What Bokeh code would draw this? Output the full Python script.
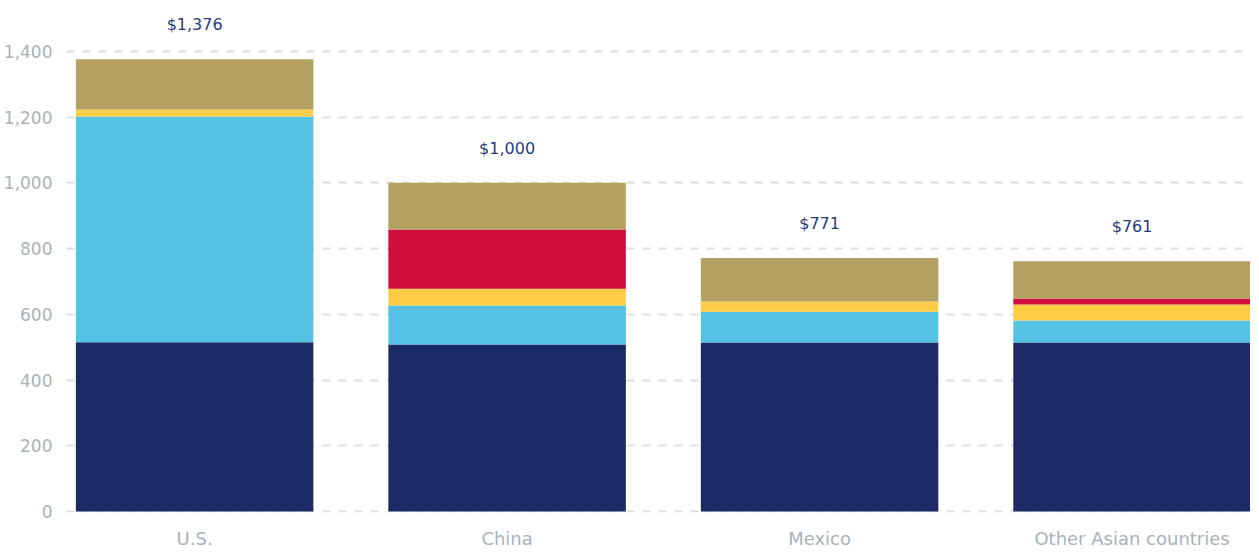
from bokeh.plotting import figure
from bokeh.models import ColumnDataSource, FixedTicker, NumeralTickFormatter, Range1d
from bokeh.embed import file_html
from bokeh.resources import INLINE
from bokeh.core.properties import value

categories = ["U.S.", "China", "Mexico", "Other Asian countries"]
navy = [515, 508, 514, 514]
light_blue = [687, 119, 94, 67]
yellow = [21, 51, 31, 49]
red = [0, 180, 0, 18]
tan = [153, 142, 132, 113]
totals = [1376, 1000, 771, 761]
total_labels = ["$1,376", "$1,000", "$771", "$761"]
y_ticks = [0, 200, 400, 600, 800, 1000, 1200, 1400]

series = ["navy", "light_blue", "yellow", "red", "tan"]
colors = ["#1b2964", "#55c1e3", "#ffcd45", "#cf0f3d", "#b4a060"]

xs = list(range(len(categories)))
source = ColumnDataSource(data=dict(x=xs, navy=navy, light_blue=light_blue, yellow=yellow,
                                    red=red, tan=tan, total=totals, label=total_labels,
                                    label_y=[t + 105 for t in totals]))

AX_FONT = "DejaVu Sans"

p = figure(frame_width=1184, frame_height=504, min_border_left=65, min_border_right=0,
           min_border_top=8, min_border_bottom=26,
           x_range=Range1d(-0.41, 3.379), y_range=Range1d(-3, 1530.3),
           output_backend="svg", toolbar_location=None, background_fill_color="white",
           border_fill_color="white", outline_line_color=None)

p.vbar_stack(series, x="x", width=0.76, color=colors, line_color=None, source=source)

p.text(x="x", y="label_y", text="label", source=source, text_align="center",
       text_baseline="middle", text_color="#2b3a78", text_font_size="16px",
       text_font=value("DejaVu Sans"))

p.xgrid.grid_line_color = None
p.ygrid.grid_line_color = "#dedede"
p.ygrid.grid_line_width = 2
p.ygrid.grid_line_dash = "8 8"
p.yaxis.ticker = FixedTicker(ticks=y_ticks)
p.yaxis.formatter = NumeralTickFormatter(format="0,0")
p.xaxis.ticker = FixedTicker(ticks=xs)
p.xaxis.major_label_overrides = {i: c for i, c in enumerate(categories)}

for ax in (p.xaxis[0], p.yaxis[0]):
    ax.axis_line_color = None
    ax.major_tick_line_color = None
    ax.minor_tick_line_color = None
    ax.major_label_text_color = "#aab2b6"
    ax.major_label_text_font = AX_FONT
    ax.major_label_text_font_size = "17px"
p.xaxis.major_label_text_font_size = "18px"
p.yaxis.major_label_standoff = 8
p.xaxis.major_label_standoff = 9

open("out.html", "w").write(file_html(p, INLINE))
